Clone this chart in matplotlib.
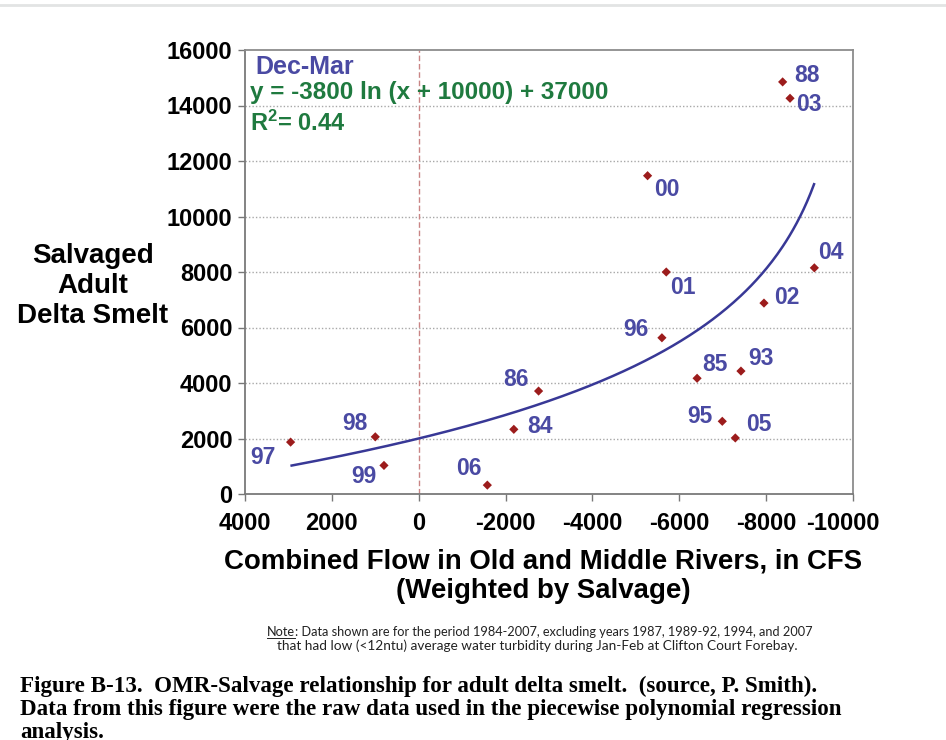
"""OMR flow vs. salvaged adult delta smelt, Dec-Mar (Figure B-13)."""

import numpy as np
import matplotlib

matplotlib.use("Agg")
import matplotlib.pyplot as plt
from matplotlib.lines import Line2D
from matplotlib.transforms import ScaledTranslation

# --- data ---------------------------------------------------------------
years = ["97", "98", "99", "06", "84", "86", "96", "01", "02", "04",
         "85", "93", "95", "05", "00", "88", "03"]
omr_flow = [2950, 1000, 800, -1580, -2190, -2760, -5600, -5700, -7950, -9110,
            -6410, -7420, -6990, -7290, -5270, -8380, -8550]
salvage = [1870, 2060, 1030, 320, 2330, 3710, 5630, 8000, 6880, 8150,
           4170, 4430, 2620, 2020, 11470, 14850, 14260]

# fitted trend shown in the figure: y = A ln(x + C) + B
FIT_A = -3800.0
FIT_C = 10000.0
FIT_B = 37000.0
fit_x_range = (2926, -9103)

x_ticks = [4000, 2000, 0, -2000, -4000, -6000, -8000, -10000]
y_ticks = [0, 2000, 4000, 6000, 8000, 10000, 12000, 14000, 16000]

# label offsets in pixels (dx right, dy up) for each year label
label_offsets = {
    "97": (-28, -15), "98": (-20, 13), "99": (-20, -11), "06": (-18, 17),
    "84": (26, 3), "86": (-23, 12), "96": (-26, 8), "01": (17, -15),
    "02": (23, 6), "04": (17, 15), "85": (18, 14), "93": (20, 13),
    "95": (-22, 5), "05": (24, 13), "00": (19, -14), "88": (24, 6),
    "03": (19, -6),
}

SANS = ["Liberation Sans", "DejaVu Sans"]
LABEL_BLUE = "#4a4aa3"
CURVE_BLUE = "#383896"
MARKER_RED = "#9c1c1c"
EQ_GREEN = "#1f7a3f"

plt.rcParams.update({
    "font.family": SANS,
    "font.weight": "bold",
    "mathtext.fontset": "custom",
    "mathtext.rm": "Liberation Sans:bold",
    "mathtext.bf": "Liberation Sans:bold",
    "mathtext.it": "Liberation Sans:bold",
})

fig = plt.figure(figsize=(9.46, 7.40), dpi=100)
ax = fig.add_axes([245 / 946, 1 - 494 / 740, 608 / 946, 444 / 740])

# horizontal dotted gridlines
for yv in y_ticks[1:-1]:
    ax.axhline(yv, color="#a8a8a8", linewidth=1.0, linestyle=(0, (1, 1.5)), zorder=1)
ax.axvline(0, color="#c98585", linewidth=1.0, linestyle=(0, (4, 2)), zorder=1)

# trend curve
fx = np.linspace(fit_x_range[0], fit_x_range[1], 300)
fy = FIT_A * np.log(fx + FIT_C) + FIT_B
ax.plot(fx, fy, color=CURVE_BLUE, linewidth=1.8, zorder=2)

# data points + year labels
ax.scatter(omr_flow, salvage, marker="D", s=22, color=MARKER_RED,
           edgecolor="none", zorder=3)
for yr, xv, yv in zip(years, omr_flow, salvage):
    dx, dy = label_offsets[yr]
    ax.annotate(yr, (xv, yv), xytext=(dx, dy), textcoords="offset pixels",
                ha="center", va="center", color=LABEL_BLUE, fontsize=16.5,
                fontweight="bold", zorder=4)

ax.set_xlim(4000, -10000)
ax.set_ylim(0, 16000)
ax.set_xticks(x_ticks)
ax.set_xticklabels([str(v) for v in x_ticks])
ax.set_yticks(y_ticks)
ax.set_yticklabels([str(v) for v in y_ticks])
ax.tick_params(axis="both", labelsize=17, length=5, width=1.0, color="#777777",
               direction="out")
ax.tick_params(axis="y", pad=4)
ax.tick_params(axis="x", pad=8)
# last x label sits a little left of its tick, as in the original
last = ax.get_xticklabels()[-1]
last.set_transform(last.get_transform() + ScaledTranslation(-10 / 100, 0, fig.dpi_scale_trans))
for side in ["left", "bottom"]:
    ax.spines[side].set_color("#7a7a7a")
    ax.spines[side].set_linewidth(1.3)
for side in ["top", "right"]:
    ax.spines[side].set_color("#8c8c8c")
    ax.spines[side].set_linewidth(1.3)

# legend-like annotation in the top left
ax.text(0.017, 0.962, "Dec-Mar", transform=ax.transAxes, ha="left", va="center",
        color=LABEL_BLUE, fontsize=18, fontweight="bold")
ax.text(0.009, 0.904, "y = -3800 ln (x + 10000) + 37000", transform=ax.transAxes,
        ha="left", va="center", color=EQ_GREEN, fontsize=17.5, fontweight="bold")
ax.text(0.009, 0.836, r"$\mathbf{R^2}$= 0.44", transform=ax.transAxes,
        ha="left", va="center", color=EQ_GREEN, fontsize=17, fontweight="bold")

# axis titles
fig.text(93 / 946, 1 - 286 / 740, "Salvaged\nAdult\nDelta Smelt", ha="center",
         va="center", fontsize=20, fontweight="bold", linespacing=1.19)
fig.text(543 / 946, 1 - 576 / 740,
         "Combined Flow in Old and Middle Rivers, in CFS\n(Weighted by Salvage)",
         ha="center", va="center", fontsize=19.9, fontweight="bold",
         linespacing=1.15)

# note with underlined "Note"
renderer = fig.canvas.get_renderer()
note_font = dict(family=["Lato", "DejaVu Sans"], fontsize=9.2, fontweight="normal",
                 color="#222222")
nx, ny = 267 / 946, 1 - 636 / 740
t_note = fig.text(nx, ny, "Note", ha="left", va="baseline", **note_font)
bb = t_note.get_window_extent(renderer)
fig.text(bb.x1 / fig.bbox.width, ny,
         ": Data shown are for the period 1984-2007, excluding years 1987, 1989-92, 1994, and 2007",
         ha="left", va="baseline", **note_font)
fig.add_artist(Line2D([bb.x0 / fig.bbox.width, bb.x1 / fig.bbox.width],
                      [ny - 2 / 740, ny - 2 / 740], color="#222222", linewidth=0.7))
fig.text(537 / 946, 1 - 650 / 740,
         "that had low (<12ntu) average water turbidity during Jan-Feb at Clifton Court Forebay.",
         ha="center", va="baseline", family=["Lato", "DejaVu Sans"], fontsize=9.8,
         fontweight="normal", color="#222222")

# caption (last line runs off the bottom edge, as in the original screenshot)
cap_font = dict(family=["Liberation Serif", "DejaVu Serif"], fontsize=16.6,
                fontweight="bold", color="black")
caption = ("Figure B-13.  OMR-Salvage relationship for adult delta smelt.  (source, P. Smith).\n"
           "Data from this figure were the raw data used in the piecewise polynomial regression\n"
           "analysis.")
fig.text(20 / 946, 1 - 676 / 740, caption, ha="left", va="top", linespacing=1.12,
         **cap_font)

# faint screenshot line at the very top
fig.add_artist(Line2D([0, 1], [1 - 5 / 740, 1 - 5 / 740], color="#e2e4e4", linewidth=2))

fig.savefig("out.png", dpi=100)
